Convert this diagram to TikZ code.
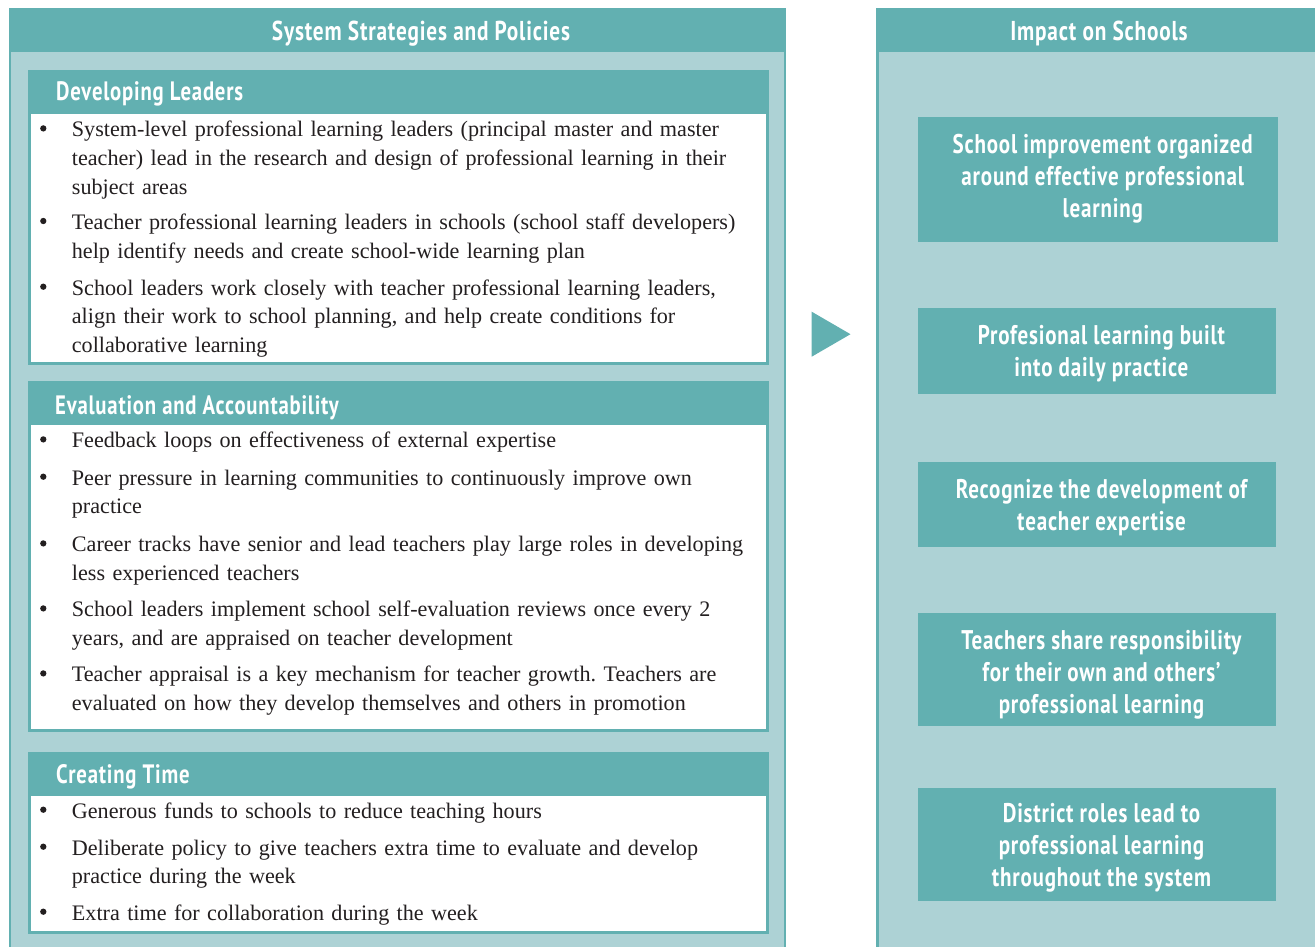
\documentclass[tikz,border=0pt]{standalone}
\usepackage{fontspec}
\setmainfont{Liberation Serif}
\newfontfamily\hdfont[FakeStretch=0.78,LetterSpace=3]{PT Sans}
\definecolor{tealdk}{RGB}{98,176,177}
\definecolor{teallt}{RGB}{173,210,213}
\definecolor{txtgray}{RGB}{35,31,32}
\tikzset{
  ttl/.style={inner sep=0pt, text=white, font=\hdfont\bfseries\fontsize{27.3}{32}\selectfont},
  subhd/.style={inner sep=0pt, text=white, font=\hdfont\bfseries\fontsize{26.6}{30}\selectfont},
  impbox/.style={fill=tealdk, inner sep=0pt},
  imptext/.style={inner sep=0pt, text=white, align=center,
    font=\hdfont\bfseries\fontsize{27}{32}\selectfont},
  btxt/.style={inner sep=0pt, text=txtgray, text width=720pt, align=left,
    font=\frenchspacing\fontsize{22.15}{28.7}\selectfont},
  bdot/.style={circle, inner sep=0pt, minimum size=6.3pt, fill=txtgray},
  subbox/.style={fill=white, draw=tealdk, line width=3pt},
  panel/.style={fill=teallt, draw=tealdk, line width=2.5pt},
}
\newcommand\bitem[3]{%
  \node[bdot] (#1d) at (43.3,#2-8.3) {};
  \node[btxt, anchor=base west] (#1) at (71.7,#2) {#3};}
\begin{document}
\begin{tikzpicture}[x=1pt,y=-1pt]
\useasboundingbox (0,0) rectangle (1315,947);
\clip (0,0) rectangle (1315,947);
% left panel
\draw[panel] (10.2,9.2) rectangle (785,980);
\fill[tealdk] (9,8) rectangle (786.2,52.3);
\node[ttl, anchor=base] (t1) at (421,41) {System Strategies and Policies};
% right panel
\draw[panel] (877.5,9.2) rectangle (1340,980);
\fill[tealdk] (876.3,8) rectangle (1340,52.3);
\node[ttl, anchor=base] (t2) at (1099,41) {Impact on Schools};
% arrow
\fill[tealdk] (811.7,311.7) -- (850.5,334.2) -- (811.7,356.7) -- cycle;
% sub box 1
\draw[subbox] (29.5,71.5) rectangle (767.5,363.5);
\fill[tealdk] (28,70) rectangle (769,114);
\node[subhd, anchor=base west] (h1) at (56,101) {Developing Leaders};
\bitem{a1}{136.7}{System-level professional learning leaders (principal master and master\\teacher) lead in the research and design of professional learning in their\\subject areas}
\bitem{a2}{229.3}{Teacher professional learning leaders in schools (school staff developers)\\help identify needs and create school-wide learning plan}
\bitem{a3}{295}{School leaders work closely with teacher professional learning leaders,\\align their work to school planning, and help create conditions for\\collaborative learning}
% sub box 2
\draw[subbox] (29.5,382.5) rectangle (767.5,730.5);
\fill[tealdk] (28,381) rectangle (769,425);
\node[subhd, anchor=base west] (h2) at (55,414) {Evaluation and Accountability};
\bitem{b1}{447.7}{Feedback loops on effectiveness of external expertise}
\bitem{b2}{485}{Peer pressure in learning communities to continuously improve own\\practice}
\bitem{b3}{551.7}{Career tracks have senior and lead teachers play large roles in developing\\less experienced teachers}
\bitem{b4}{616.7}{School leaders implement school self-evaluation reviews once every 2\\years, and are appraised on teacher development}
\bitem{b5}{681.7}{Teacher appraisal is a key mechanism for teacher growth. Teachers are\\evaluated on how they develop themselves and others in promotion}
% sub box 3
\draw[subbox] (29.5,753.5) rectangle (767.5,932.5);
\fill[tealdk] (28,752) rectangle (769,796);
\node[subhd, anchor=base west] (h3) at (56,783) {Creating Time};
\bitem{c1}{818}{Generous funds to schools to reduce teaching hours}
\bitem{c2}{855}{Deliberate policy to give teachers extra time to evaluate and develop\\practice during the week}
\bitem{c3}{920}{Extra time for collaboration during the week}
% impact boxes
\node[impbox, minimum width=359.6pt, minimum height=125pt] (i1) at (1098.2,179.2) {};
\node[imptext] (i1t) at ([xshift=4.5pt]i1.center) {School improvement organized\\around effective professional\\learning};
\node[impbox, minimum width=358.3pt, minimum height=86.3pt] (i2) at (1096.9,350.9) {};
\node[imptext] (i2t) at ([xshift=4.5pt,yshift=-3pt]i2.center) {Profesional learning built\\into daily practice};
\node[impbox, minimum width=358pt, minimum height=85pt] (i3) at (1097,504.5) {};
\node[imptext] (i3t) at ([xshift=4.5pt,yshift=-3pt]i3.center) {Recognize the development of\\teacher expertise};
\node[impbox, minimum width=358pt, minimum height=112.7pt] (i4) at (1097,669.4) {};
\node[imptext] (i4t) at ([xshift=4.5pt,yshift=-5pt]i4.center) {Teachers share responsibility\\for their own and others’\\professional learning};
\node[impbox, minimum width=358pt, minimum height=113pt] (i5) at (1097,844.5) {};
\node[imptext] (i5t) at ([xshift=4.5pt,yshift=-3pt]i5.center) {District roles lead to\\professional learning\\throughout the system};
\end{tikzpicture}
\end{document}
